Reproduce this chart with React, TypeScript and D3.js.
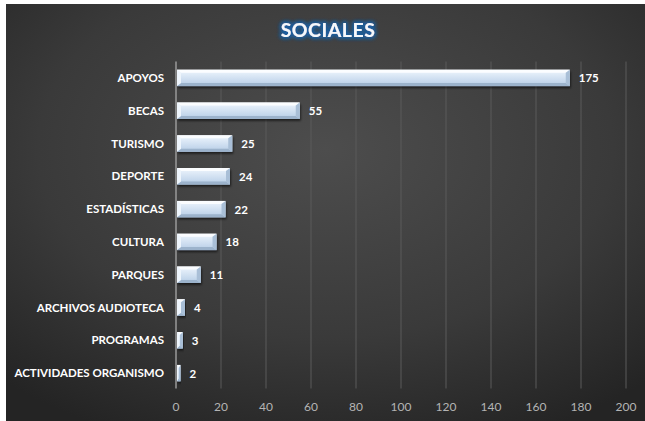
import React from "react";
import * as d3 from "d3";

const categories = [
  "APOYOS",
  "BECAS",
  "TURISMO",
  "DEPORTE",
  "ESTADÍSTICAS",
  "CULTURA",
  "PARQUES",
  "ARCHIVOS AUDIOTECA",
  "PROGRAMAS",
  "ACTIVIDADES ORGANISMO",
];
const values = [175, 55, 25, 24, 22, 18, 11, 4, 3, 2];
const xTicks = [0, 20, 40, 60, 80, 100, 120, 140, 160, 180, 200];
const title = "SOCIALES";

const W = 645;
const H = 421;
const left = 176;
const right = 626;
const top = 61.5;
const bottom = 389.5;

export default function App() {
  const x = d3.scaleLinear().domain([0, 200]).range([left, right]);
  const y = d3
    .scaleBand<string>()
    .domain(categories)
    .range([top, bottom])
    .paddingInner(0.5)
    .paddingOuter(0.25);
  const bh = y.bandwidth();
  const font = "Lato, 'Open Sans', sans-serif";

  return (
    <svg
      width={W}
      height={H}
      style={{ position: "absolute", left: 0, top: 0 }}
      fontFamily={font}
    >
      <defs>
        <radialGradient id="bg" cx="0.5" cy="0.35" r="0.75">
          <stop offset="0" stopColor="#4d4d4d" />
          <stop offset="0.6" stopColor="#3a3a3a" />
          <stop offset="1" stopColor="#242424" />
        </radialGradient>
        <linearGradient id="barFace" x1="0" y1="0" x2="0" y2="1">
          <stop offset="0" stopColor="#f4f9fe" />
          <stop offset="0.2" stopColor="#e4eef9" />
          <stop offset="0.75" stopColor="#c4d7ec" />
          <stop offset="1" stopColor="#b2c8e0" />
        </linearGradient>
        <filter id="glow" x="-20%" y="-50%" width="140%" height="200%">
          <feMorphology in="SourceAlpha" operator="dilate" radius="1" result="d" />
          <feGaussianBlur in="d" stdDeviation="2" result="b" />
          <feFlood floodColor="#1f5e9e" result="c" />
          <feComposite in="c" in2="b" operator="in" result="g" />
          <feMerge>
            <feMergeNode in="g" />
            <feMergeNode in="g" />
            <feMergeNode in="SourceGraphic" />
          </feMerge>
        </filter>
        <filter id="shadow" x="-10%" y="-50%" width="120%" height="200%">
          <feGaussianBlur in="SourceAlpha" stdDeviation="1.2" />
          <feOffset dx="1" dy="2" result="o" />
          <feComponentTransfer>
            <feFuncA type="linear" slope="0.6" />
          </feComponentTransfer>
          <feMerge>
            <feMergeNode />
            <feMergeNode in="SourceGraphic" />
          </feMerge>
        </filter>
      </defs>
      <rect x={0} y={0} width={W} height={H} fill="#ffffff" />
      <rect x={6} y={4} width={W - 6} height={H - 4} fill="url(#bg)" />

      <text
        x={328}
        y={37}
        textAnchor="middle"
        fontSize={19.5}
        fontWeight={700}
        fill="#f4f8fc"
        filter="url(#glow)"
        letterSpacing={0.5}
      >
        {title}
      </text>

      {xTicks.map((t) => (
        <g key={t}>
          {t > 0 && (
            <line
              x1={x(t)}
              x2={x(t)}
              y1={top}
              y2={bottom - 1}
              stroke="#5a5a5a"
              strokeWidth={1}
            />
          )}
          <text
            x={x(t)}
            y={411}
            textAnchor="middle"
            fontSize={12}
            fill="#b4b4b4"
          >
            {t}
          </text>
        </g>
      ))}
      <line
        x1={x(0)}
        x2={x(0)}
        y1={top}
        y2={bottom - 1}
        stroke="#9a9a9a"
        strokeWidth={1.5}
      />

      {categories.map((c, i) => {
        const v = values[i];
        const x0 = x(0) + 1;
        const x1 = x(v);
        const y0 = y(c)!;
        const y1 = y0 + bh;
        const w = x1 - x0;
        const bev = Math.min(4, w / 2);
        const cy = y0 + bh / 2;
        return (
          <g key={c}>
            <g filter="url(#shadow)">
              <rect x={x0} y={y0} width={w} height={bh} fill="url(#barFace)" />
            </g>
            <polygon
              points={`${x0},${y0} ${x1},${y0} ${x1 - bev},${y0 + 3} ${x0 + bev},${y0 + 3}`}
              fill="#fbfdff"
            />
            <polygon
              points={`${x0},${y1} ${x1},${y1} ${x1 - bev},${y1 - 3} ${x0 + bev},${y1 - 3}`}
              fill="#9cb3cc"
            />
            <polygon
              points={`${x0},${y0} ${x0 + bev},${y0 + 3} ${x0 + bev},${y1 - 3} ${x0},${y1}`}
              fill="#eef5fc"
            />
            <polygon
              points={`${x1},${y0} ${x1 - bev},${y0 + 3} ${x1 - bev},${y1 - 3} ${x1},${y1}`}
              fill="#a9bfd7"
            />
            <text
              x={x(0) - 12}
              y={cy + 4}
              textAnchor="end"
              fontSize={11.5}
              fontWeight={700}
              fill="#ffffff"
            >
              {c}
            </text>
            <text
              x={x1 + 9}
              y={cy + 4.5}
              fontSize={11.5}
              fontWeight={700}
              fill="#ffffff"
            >
              {v}
            </text>
          </g>
        );
      })}
    </svg>
  );
}
